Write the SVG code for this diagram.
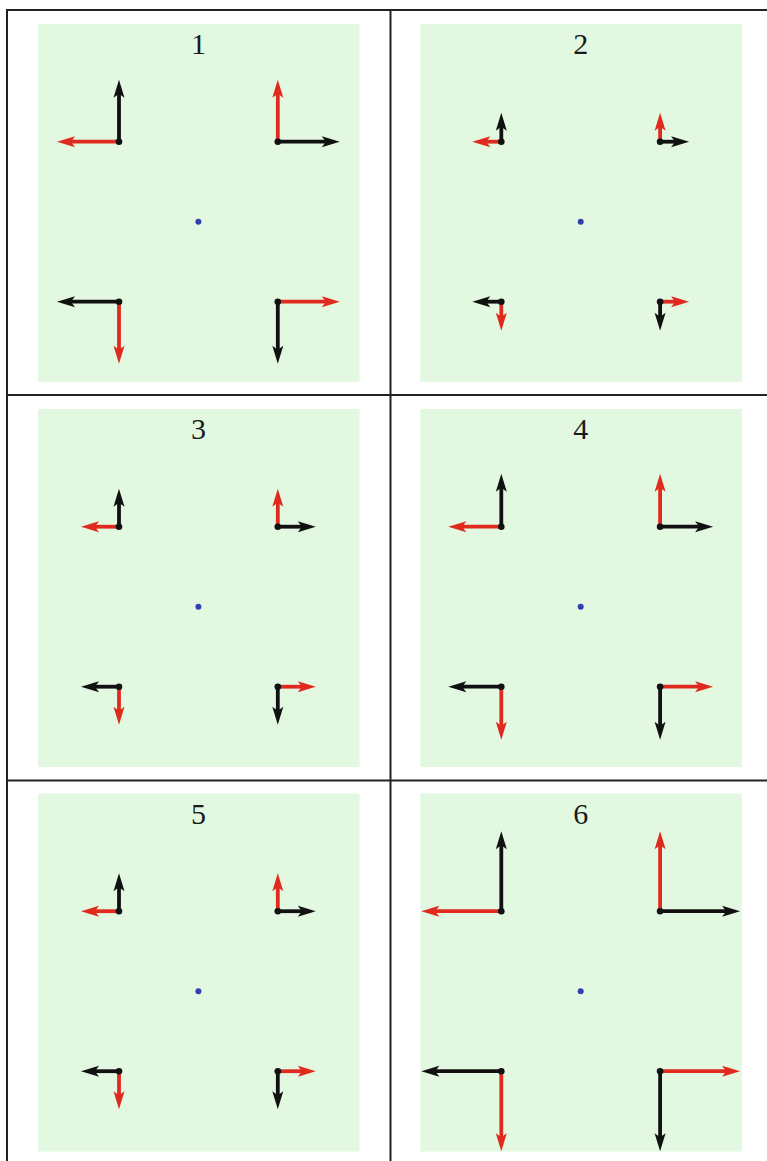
<svg xmlns="http://www.w3.org/2000/svg" width="767" height="1161" viewBox="0 0 767 1161">
<style>
.bg{fill:#e2f8e0}
.lbl{font-family:"Liberation Serif","Times New Roman",serif;font-size:30px;fill:#1a1a1a;text-anchor:middle}
.r{stroke:#e02a1e;stroke-width:3.8;fill:none;marker-end:url(#hr)}
.k{stroke:#111;stroke-width:3.8;fill:none;marker-end:url(#hk)}
.dot{fill:#111}
.ctr{fill:#3040b0}
.grid{stroke:#222;stroke-width:2;fill:none}
</style>
<defs>
<marker id="hk" markerUnits="userSpaceOnUse" viewBox="-10 -8 22 16" markerWidth="22" markerHeight="16" refX="0" refY="0" orient="auto" overflow="visible"><path d="M10,0 L-8,-5.5 L-4,0 L-8,5.5 Z" fill="#111"/></marker>
<marker id="hr" markerUnits="userSpaceOnUse" viewBox="-10 -8 22 16" markerWidth="22" markerHeight="16" refX="0" refY="0" orient="auto" overflow="visible"><path d="M10,0 L-8,-5.5 L-4,0 L-8,5.5 Z" fill="#e02a1e"/></marker>
</defs>
<rect width="767" height="1161" fill="#fff"/>
<g id="grid" class="grid">
<rect x="7" y="10" width="767" height="1156"/>
<line x1="390.5" y1="10" x2="390.5" y2="1166"/>
<line x1="7" y1="395" x2="774" y2="395"/>
<line x1="7" y1="780.5" x2="774" y2="780.5"/>
</g>

<g id="panel1" transform="translate(198.4,221.7)">
<rect class="bg" x="-160.4" y="-197.7" width="321.5" height="358"/>
<text class="lbl" x="0" y="-167.7">1</text>
<circle class="ctr" cx="0" cy="0" r="3"/>
<g id="arrows1">
<path class="r" d="M-79.4,-80 h-52"/><path class="r" d="M79.4,-80 v-52"/><path class="r" d="M-79.4,80 v52"/><path class="r" d="M79.4,80 h52"/>
<path class="k" d="M-79.4,-80 v-52"/><path class="k" d="M79.4,-80 h52"/><path class="k" d="M-79.4,80 h-52"/><path class="k" d="M79.4,80 v52"/>
<circle class="dot" cx="-79.4" cy="-80" r="3.3"/><circle class="dot" cx="79.4" cy="-80" r="3.3"/><circle class="dot" cx="-79.4" cy="80" r="3.3"/><circle class="dot" cx="79.4" cy="80" r="3.3"/>
</g>
</g>

<g id="panel2" transform="translate(580.7,221.7)">
<rect class="bg" x="-160.4" y="-197.7" width="321.5" height="358"/>
<text class="lbl" x="0" y="-167.7">2</text>
<circle class="ctr" cx="0" cy="0" r="3"/>
<g id="arrows2">
<path class="r" d="M-79.4,-80 h-19"/><path class="r" d="M79.4,-80 v-19"/><path class="r" d="M-79.4,80 v19"/><path class="r" d="M79.4,80 h19"/>
<path class="k" d="M-79.4,-80 v-19"/><path class="k" d="M79.4,-80 h19"/><path class="k" d="M-79.4,80 h-19"/><path class="k" d="M79.4,80 v19"/>
<circle class="dot" cx="-79.4" cy="-80" r="3.3"/><circle class="dot" cx="79.4" cy="-80" r="3.3"/><circle class="dot" cx="-79.4" cy="80" r="3.3"/><circle class="dot" cx="79.4" cy="80" r="3.3"/>
</g>
</g>

<g id="panel3" transform="translate(198.4,606.7)">
<rect class="bg" x="-160.4" y="-197.7" width="321.5" height="358"/>
<text class="lbl" x="0" y="-167.7">3</text>
<circle class="ctr" cx="0" cy="0" r="3"/>
<g id="arrows3">
<path class="r" d="M-79.4,-80 h-28"/><path class="r" d="M79.4,-80 v-28"/><path class="r" d="M-79.4,80 v28"/><path class="r" d="M79.4,80 h28"/>
<path class="k" d="M-79.4,-80 v-28"/><path class="k" d="M79.4,-80 h28"/><path class="k" d="M-79.4,80 h-28"/><path class="k" d="M79.4,80 v28"/>
<circle class="dot" cx="-79.4" cy="-80" r="3.3"/><circle class="dot" cx="79.4" cy="-80" r="3.3"/><circle class="dot" cx="-79.4" cy="80" r="3.3"/><circle class="dot" cx="79.4" cy="80" r="3.3"/>
</g>
</g>

<g id="panel4" transform="translate(580.7,606.7)">
<rect class="bg" x="-160.4" y="-197.7" width="321.5" height="358"/>
<text class="lbl" x="0" y="-167.7">4</text>
<circle class="ctr" cx="0" cy="0" r="3"/>
<g id="arrows4">
<path class="r" d="M-79.4,-80 h-43"/><path class="r" d="M79.4,-80 v-43"/><path class="r" d="M-79.4,80 v43"/><path class="r" d="M79.4,80 h43"/>
<path class="k" d="M-79.4,-80 v-43"/><path class="k" d="M79.4,-80 h43"/><path class="k" d="M-79.4,80 h-43"/><path class="k" d="M79.4,80 v43"/>
<circle class="dot" cx="-79.4" cy="-80" r="3.3"/><circle class="dot" cx="79.4" cy="-80" r="3.3"/><circle class="dot" cx="-79.4" cy="80" r="3.3"/><circle class="dot" cx="79.4" cy="80" r="3.3"/>
</g>
</g>

<g id="panel5" transform="translate(198.4,991.2)">
<rect class="bg" x="-160.4" y="-197.7" width="321.5" height="358"/>
<text class="lbl" x="0" y="-167.7">5</text>
<circle class="ctr" cx="0" cy="0" r="3"/>
<g id="arrows5">
<path class="r" d="M-79.4,-80 h-28"/><path class="r" d="M79.4,-80 v-28"/><path class="r" d="M-79.4,80 v28"/><path class="r" d="M79.4,80 h28"/>
<path class="k" d="M-79.4,-80 v-28"/><path class="k" d="M79.4,-80 h28"/><path class="k" d="M-79.4,80 h-28"/><path class="k" d="M79.4,80 v28"/>
<circle class="dot" cx="-79.4" cy="-80" r="3.3"/><circle class="dot" cx="79.4" cy="-80" r="3.3"/><circle class="dot" cx="-79.4" cy="80" r="3.3"/><circle class="dot" cx="79.4" cy="80" r="3.3"/>
</g>
</g>

<g id="panel6" transform="translate(580.7,991.2)">
<rect class="bg" x="-160.4" y="-197.7" width="321.5" height="358"/>
<text class="lbl" x="0" y="-167.7">6</text>
<circle class="ctr" cx="0" cy="0" r="3"/>
<g id="arrows6">
<path class="r" d="M-79.4,-80 h-70"/><path class="r" d="M79.4,-80 v-70"/><path class="r" d="M-79.4,80 v70"/><path class="r" d="M79.4,80 h70"/>
<path class="k" d="M-79.4,-80 v-70"/><path class="k" d="M79.4,-80 h70"/><path class="k" d="M-79.4,80 h-70"/><path class="k" d="M79.4,80 v70"/>
<circle class="dot" cx="-79.4" cy="-80" r="3.3"/><circle class="dot" cx="79.4" cy="-80" r="3.3"/><circle class="dot" cx="-79.4" cy="80" r="3.3"/><circle class="dot" cx="79.4" cy="80" r="3.3"/>
</g>
</g>
</svg>
